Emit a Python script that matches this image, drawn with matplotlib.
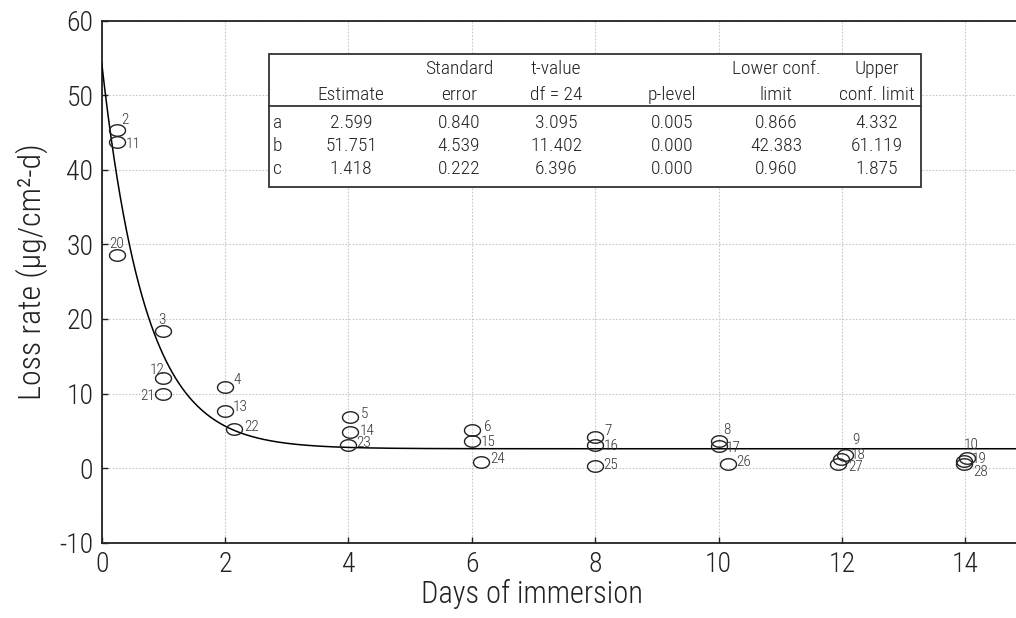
import numpy as np
import matplotlib
matplotlib.use("Agg")
import matplotlib.pyplot as plt
from matplotlib.path import Path
from matplotlib.patches import Rectangle

plt.rcParams['font.family'] = ['Roboto Condensed', 'DejaVu Sans']
plt.rcParams['font.weight'] = 300
plt.rcParams['axes.labelweight'] = 300
plt.rcParams['axes.unicode_minus'] = False

# Observations: day of immersion, loss rate and sample number
obs_id = [2, 11, 20, 3, 12, 21, 4, 13, 22, 5, 14, 23, 6, 15, 24,
          7, 16, 25, 8, 17, 26, 9, 18, 27, 10, 19, 28]
days = [0.24, 0.24, 0.24, 1.0, 1.0, 1.0, 2.0, 2.0, 2.15, 4.02, 4.02, 4.0,
        6.0, 6.0, 6.15, 8.0, 8.0, 8.0, 10.0, 10.0, 10.15, 12.05, 11.98, 11.93,
        14.02, 13.98, 13.97]
loss = [45.3, 43.8, 28.6, 18.4, 12.1, 9.95, 10.9, 7.65, 5.2, 6.9, 4.9, 3.1,
        5.1, 3.6, 0.85, 4.2, 3.1, 0.3, 3.6, 3.0, 0.55, 1.7, 1.2, 0.5,
        1.3, 1.0, 0.5]

# Fitted model y = a + b*exp(-c*x)
params = ['a', 'b', 'c']
estimate = [2.599, 51.751, 1.418]
std_err = [0.840, 4.539, 0.222]
t_value = [3.095, 11.402, 6.396]
p_level = [0.005, 0.000, 0.000]
lower_cl = [0.866, 42.383, 0.960]
upper_cl = [4.332, 61.119, 1.875]

x_ticks = [0, 2, 4, 6, 8, 10, 12, 14]
y_ticks = [-10, 0, 10, 20, 30, 40, 50, 60]

# label offsets (pixels) for the sample numbers
label_offsets = {
    2: (5, 10), 11: (9, -2), 20: (-7, 11), 3: (-5, 11), 12: (-14, 8),
    21: (-23, -2), 4: (8, 7), 13: (8, 4), 22: (10, 2), 5: (11, 3),
    14: (10, 1), 23: (8, 2), 6: (12, 3), 15: (9, -1), 24: (9, 3),
    7: (9, 6), 16: (8, -1), 25: (8, 1), 8: (5, 11), 17: (7, -2),
    26: (8, 2), 9: (7, 15), 18: (10, 4), 27: (11, -3), 10: (-3, 13),
    19: (8, 2), 28: (10, -8),
}

W, H = 1016, 618
fig = plt.figure(figsize=(W / 100, H / 100), dpi=100)
ax = fig.add_axes([101.7 / W, 1 - 542.7 / H, (W - 101.7) / W + 0.01, (542.7 - 20.7) / H])

xmax = (W - 101.7) / 61.69
ax.set_xlim(0, xmax * (1 + 0.01 * W / (W - 101.7)))
ax.set_ylim(-10, 60)

ax.grid(True, color='#c8c8c8', linestyle=(0, (1.5, 1.5)), linewidth=0.8)
ax.set_axisbelow(True)

# fitted curve
xs = np.linspace(0, 15, 600)
a, b, c = estimate
ax.plot(xs, a + b * np.exp(-c * xs), color='black', linewidth=1.1, zorder=3)

# open elliptical markers
t = np.linspace(0, 2 * np.pi, 60)
ellipse = Path(np.column_stack([np.cos(t) * 1.0, np.sin(t) * 0.72]), closed=True)
ax.plot(days, loss, linestyle='none', marker=ellipse, markersize=11.5,
        markerfacecolor='none', markeredgecolor='#222222', markeredgewidth=1.0,
        zorder=4)

for i, xv, yv in zip(obs_id, days, loss):
    dx, dy = label_offsets[i]
    ax.annotate(str(i), (xv, yv), xytext=(dx, dy), textcoords='offset pixels',
                fontsize=11, color='#333333', ha='left', va='center', zorder=5)

ax.set_xticks(x_ticks)
ax.set_yticks(y_ticks)
ax.tick_params(direction='in', length=4, width=1.0, labelsize=20, colors='#222222', pad=6)
ax.spines['right'].set_visible(False)
for s in ['left', 'bottom', 'top']:
    ax.spines[s].set_linewidth(1.3)
    ax.spines[s].set_color('#222222')

ax.set_xlabel('Days of immersion', fontsize=22, color='#222222')
ax.xaxis.set_label_coords((532 - 101.7) / (W - 101.7 + 0.01 * W), -0.07)
ax.set_ylabel('Loss rate (μg/cm²-d)', fontsize=23, color='#222222')
ax.yaxis.set_label_coords(-0.058, 0.52)

# parameter table drawn in figure pixel space
ov = fig.add_axes([0, 0, 1, 1], zorder=10)
ov.set_xlim(0, W)
ov.set_ylim(H, 0)
ov.axis('off')
ov.add_patch(Rectangle((269, 54), 921 - 269, 187 - 54, facecolor='white',
                       edgecolor='#333333', linewidth=1.3))
ov.plot([269, 921], [106, 106], color='#333333', linewidth=1.3)

col_x = [351, 459, 556, 672, 776, 877]
head1 = ['', 'Standard', 't-value', '', 'Lower conf.', 'Upper']
head2 = ['Estimate', 'error', 'df = 24', 'p-level', 'limit', 'conf. limit']
tfs = 14
for cx, h1, h2 in zip(col_x, head1, head2):
    ov.text(cx, 69, h1, ha='center', va='center', fontsize=tfs, color='#222222')
    ov.text(cx, 95, h2, ha='center', va='center', fontsize=tfs, color='#222222')

row_y = [123, 146, 169]
cols = [estimate, std_err, t_value, p_level, lower_cl, upper_cl]
for r, (name, ry) in enumerate(zip(params, row_y)):
    ov.text(273, ry, name, ha='left', va='center', fontsize=tfs, color='#222222')
    for cx, col in zip(col_x, cols):
        ov.text(cx, ry, f'{col[r]:.3f}', ha='center', va='center', fontsize=tfs,
                color='#222222')

fig.savefig('out.png', dpi=100)
